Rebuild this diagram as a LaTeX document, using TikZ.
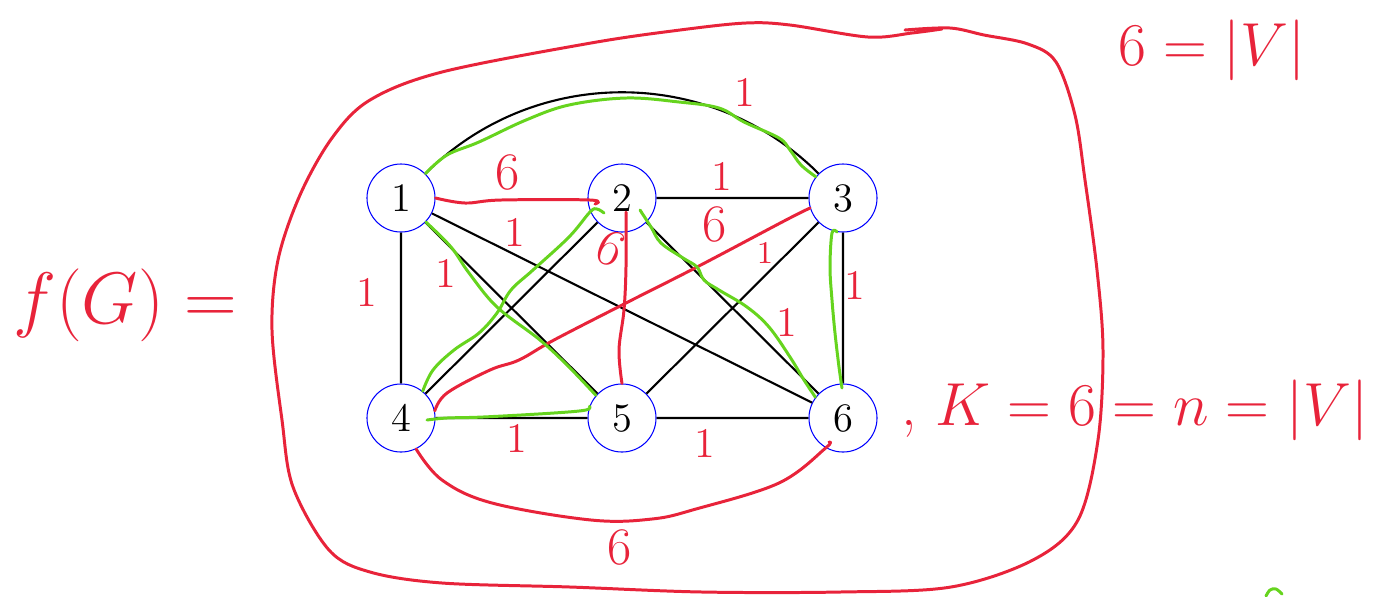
\documentclass[tikz,border=0pt]{standalone}
\definecolor{inkred}{RGB}{232,35,58}
\definecolor{inkgreen}{RGB}{102,212,30}
\begin{document}
\begin{tikzpicture}[
        x=0.01cm, y=-0.01cm,
        vertex/.style={draw=blue, circle, minimum size=0.68cm, inner sep=0pt, line width=0.3pt, font=\fontsize{11.5}{13}\selectfont},
        edge/.style={draw, line width=0.6pt},
        redink/.style={draw=inkred, line width=0.85pt, line cap=round, line join=round},
        greenink/.style={draw=inkgreen, line width=0.85pt, line cap=round, line join=round},
        weight/.style={text=inkred, inner sep=0pt, font=\fontsize{12}{14}\selectfont},
        note/.style={text=inkred, inner sep=0pt, font=\fontsize{17.5}{20}\selectfont},
    ]
    \useasboundingbox (0,0) rectangle (1390,596);
    \node[vertex](1) at (401,198){1};
    \node[vertex](2) at (622,198){2};
    \node[vertex](3) at (843,198){3};
    \node[vertex](4) at (401,418){4};
    \node[vertex](5) at (622,418){5};
    \node[vertex](6) at (843,418){6};

    \draw[edge] (1) to[bend left=45] (3);
    \draw[edge] (2) -- (3) (1) -- (4) (1) -- (5) (1) -- (6) (2) -- (4)
        (2) -- (6) (3) -- (5) (3) -- (6) (4) -- (5) (5) -- (6);

    \draw[redink] plot[smooth, tension=0.6] coordinates {(1.east) (465,203) (501,200) (590,200) (595,204)};
    \draw[redink] plot[smooth, tension=0.6] coordinates {(626,212) (626,267) (624,310) (619,350) (5.north)};
    \draw[redink] plot[smooth, tension=0.6] coordinates {(3.-163) (786,220) (697,267) (626,303) (554,340) (519,360) (490,370) (447,393) (4.12)};
    \draw[redink] plot[smooth, tension=0.6] coordinates {(4.-64) (442,480) (492,503) (591,520) (652,519) (696,509) (779,483) (6.-120) (829,442)};

    \draw[greenink] plot[smooth, tension=0.6] coordinates {(1.north east) (447,155) (479,142) (526,120) (569,105) (626,98) (679,102) (719,108) (744,122) (779,138) (790,150) (801,165) (3.142)};
    \draw[greenink] plot[smooth, tension=0.6] coordinates {(3.-100) (832,233) (830,267) (832,300) (835,333) (839,367) (842,388)};
    \draw[greenink] plot[smooth, tension=0.6] coordinates {(640,210) (651,227) (661,243) (683,258) (697,267) (704,280) (719,290) (747,307) (769,327) (790,357) (804,380) (6.143)};
    \draw[greenink] plot[smooth, tension=0.6] coordinates {(604,213) (597,209) (590,212) (569,237) (533,270) (511,290) (497,313) (479,333) (454,350) (433,370) (4.51)};
    \draw[greenink] plot[smooth, tension=0.6] coordinates {(427,420) (447,418) (483,417) (554,413) (586,410) (5.160)};
    \draw[greenink] plot[smooth, tension=0.6] coordinates {(5.139) (569,367) (540,340) (497,307) (469,273) (451,247) (1.-44)};
    \draw[greenink] plot[smooth, tension=0.6] coordinates {(1266,596) (1270,590) (1276,589) (1282,594)};

    \draw[redink] plot[smooth, tension=0.55] coordinates {(942,29) (912,33) (868,37) (790,25) (746,23) (680,30) (591,43) (442,72) (370,100) (332,138) (300,195) (278,260) (272,330) (282,420) (293,487) (329,550) (370,572) (442,583) (570,587) (702,592) (840,592) (951,587) (1033,560) (1078,520) (1098,440) (1103,350) (1097,270) (1085,180) (1075,115) (1056,62) (1028,44) (984,35) (950,28) (905,30)};

    \node[weight, font=\fontsize{15}{17}\selectfont](w12) at (508,172){6};
    \node[weight, font=\fontsize{15}{17}\selectfont, rotate=-25](w25) at (611,248){6};
    \node[weight, font=\fontsize{15}{17}\selectfont](w34) at (715,224){6};
    \node[weight, font=\fontsize{15}{17}\selectfont](w46) at (620,547){6};
    \node[weight](w13) at (745,92){1};
    \node[weight](w23) at (722,176){1};
    \node[weight](w16) at (515,232){1};
    \node[weight](w15) at (446,273){1};
    \node[weight](w14) at (367,292){1};
    \node[weight, font=\fontsize{9}{11}\selectfont](w35) at (765,253){1};
    \node[weight](w26) at (787,322){1};
    \node[weight](w36) at (855,285){1};
    \node[weight](w45) at (517,438){1};
    \node[weight](w56) at (705,443){1};

    \node[note, font=\fontsize{21}{24}\selectfont](fG) at (125,305){$f(G)=$};
    \node[note, font=\fontsize{18}{20}\selectfont](nV) at (1212,50){$6=|V|$};
    \node[note](kV) at (1135,410){, $K=6=n=|V|$};
\end{tikzpicture}
\end{document}
